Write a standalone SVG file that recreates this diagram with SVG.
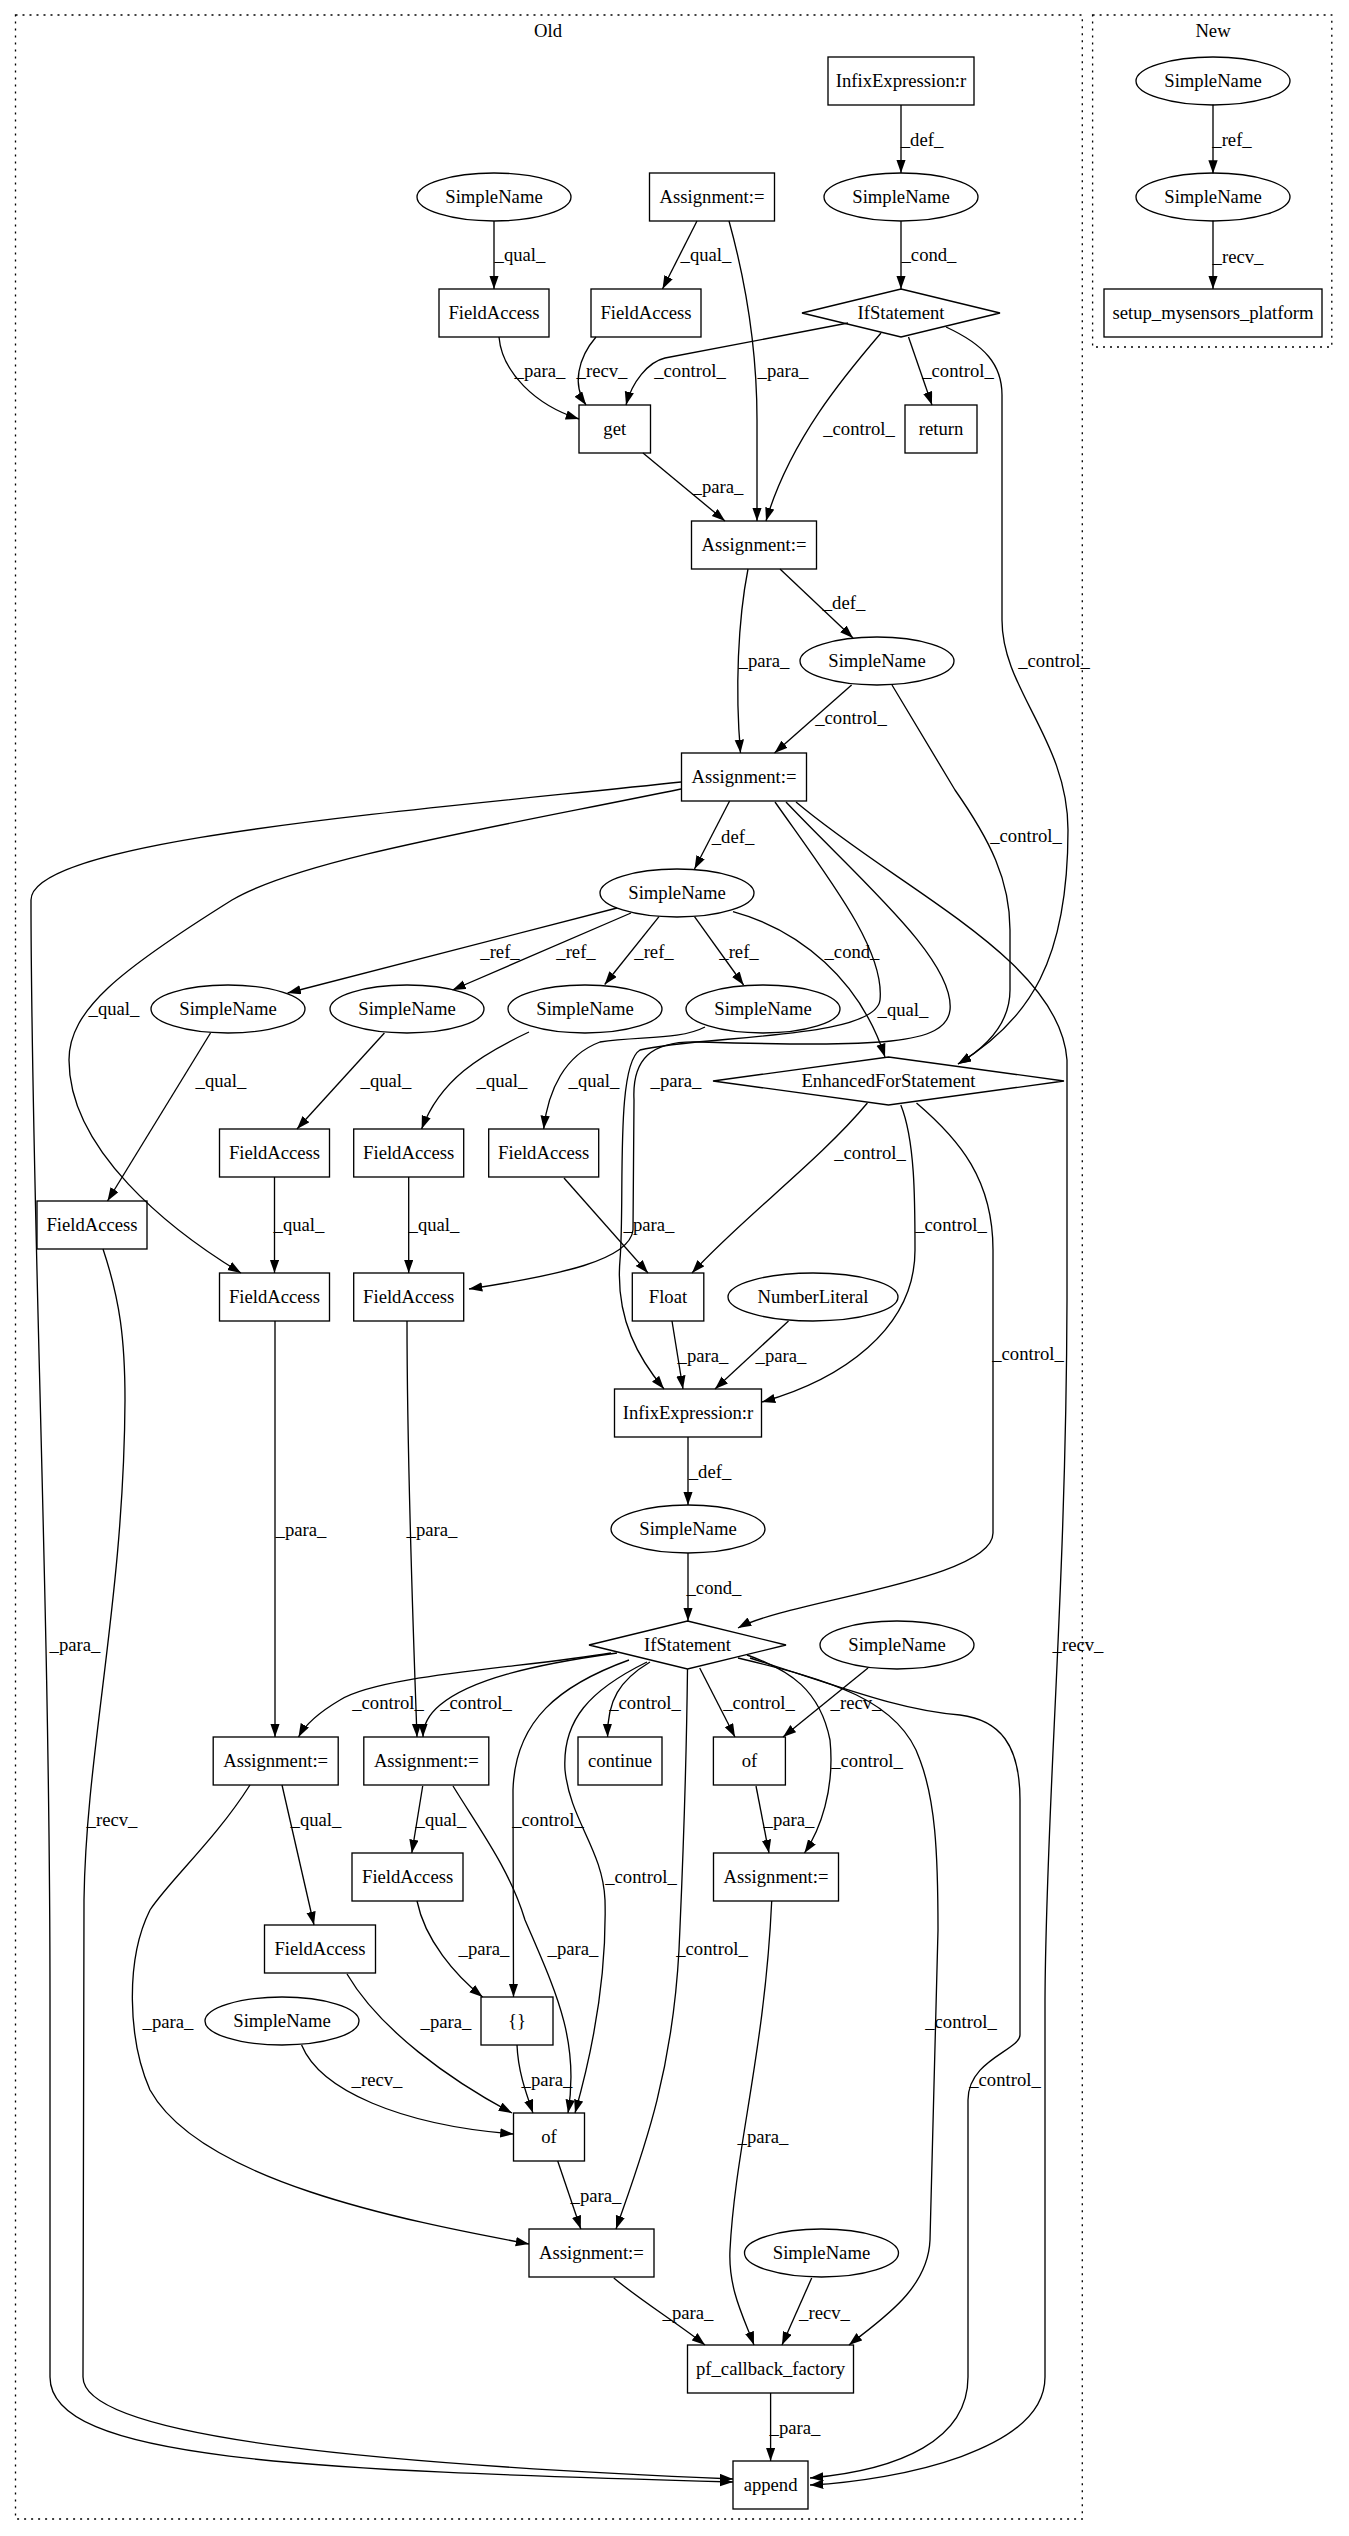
<svg xmlns="http://www.w3.org/2000/svg" width="1349" height="2536" viewBox="0 0 1349 2536">
<defs>
<marker id="a" markerWidth="14" markerHeight="10" refX="13.3" refY="4.67" orient="auto" markerUnits="userSpaceOnUse"><path d="M0,0 L13.3,4.67 L0,9.33 z" fill="#000"/></marker>
<style>
.c{fill:none;stroke:#000;stroke-width:1.33;stroke-dasharray:2,5}
.n{fill:none;stroke:#000;stroke-width:1.33}
.e{fill:none;stroke:#000;stroke-width:1.33;marker-end:url(#a)}
text{font-family:"Liberation Serif","Times New Roman",serif;font-size:18.67px;fill:#000;text-anchor:middle}
</style>
</defs>
<rect width="1349" height="2536" fill="#fff"/>
<g id="clusters">
<rect class="c" x="15.5" y="15" width="1066.8" height="2504"/>
<text x="548" y="37">Old</text>
<rect class="c" x="1092.6" y="15" width="239.2" height="332"/>
<text x="1213" y="37">New</text>
</g>
<g id="edges">
<path class="e" d="M901,105 L901,173"/>
<path class="e" d="M901,221 L901,289"/>
<path class="e" d="M494,221 L494,289"/>
<path class="e" d="M697,221 L662.5,289"/>
<path class="e" d="M729,221 C748,290 757,360 757,420 L757,521"/>
<path class="e" d="M499,337 C502,372 535,405 579,419"/>
<path class="e" d="M596,337 C578,358 572,385 586,405"/>
<path class="e" d="M848,323 L665,358 C648,362 632,382 626,405"/>
<path class="e" d="M908.5,337 L932,405"/>
<path class="e" d="M881,333 C845,375 790,440 766,521"/>
<path class="e" d="M946,327 C985,345 1002,365 1002,395 L1002,620 C1002,690 1068,740 1068,830 C1068,960 1030,1020 958,1064"/>
<path class="e" d="M643,453 L725,521"/>
<path class="e" d="M780,569 L853,638"/>
<path class="e" d="M748,569 C738,620 735,690 740.5,753"/>
<path class="e" d="M851.6,685 L774.5,753"/>
<path class="e" d="M892,685 L955,790 C990,840 1010,880 1010,930 L1010,990 C1010,1020 990,1045 958,1064"/>
<path class="e" d="M729.6,801 L694.5,869"/>
<path class="e" d="M681,782 C400,812 31,840 31,900 C31,1200 50,1600 50,2000 L50,2377 C50,2460 300,2470 733,2482"/>
<path class="e" d="M681,789 C480,830 300,860 232,900 C120,970 69,1010 69,1060 C69,1150 170,1230 241,1273"/>
<path class="e" d="M775,802 C830,880 885,950 880,1000 C875,1040 700,1035 640,1050 C615,1065 625,1200 620,1260 C615,1320 640,1360 664,1389"/>
<path class="e" d="M786,802 C860,880 955,960 950,1010 C946,1045 880,1047 700,1042 C650,1040 632,1060 634,1100 L633,1230 C630,1260 560,1275 469,1289"/>
<path class="e" d="M796,802 C900,890 1060,960 1067,1060 L1067,1300 C1066,1600 1046,1800 1045,2000 L1045,2377 C1045,2450 900,2480 810,2485"/>
<path class="e" d="M733,911.7 C800,930 860,980 885,1057"/>
<path class="e" d="M617,908 L287.6,993"/>
<path class="e" d="M631,913 L452.5,990"/>
<path class="e" d="M659,916.7 L604.7,984.5"/>
<path class="e" d="M694.5,916.7 L743.6,985"/>
<path class="e" d="M210.5,1033 L107.5,1201"/>
<path class="e" d="M384.4,1033 L297,1129"/>
<path class="e" d="M529,1032 C480,1055 440,1080 421.6,1129"/>
<path class="e" d="M705,1027 C680,1040 640,1036 600,1042 C565,1055 548,1090 543.7,1129"/>
<path class="e" d="M274.5,1177 L274.5,1273"/>
<path class="e" d="M408.7,1177 L408.7,1273"/>
<path class="e" d="M564,1178 L648,1273"/>
<path class="e" d="M103,1249 C120,1300 125,1340 125,1400 C124,1600 86,1750 84,1900 L83,2377 C83,2440 400,2465 733,2479"/>
<path class="e" d="M867.4,1103 C820,1160 740,1220 692,1273"/>
<path class="e" d="M900.8,1105 C915,1140 915,1200 915,1250 C915,1330 840,1380 762,1402"/>
<path class="e" d="M916.5,1103 C960,1140 993,1180 993,1250 L993,1533 C993,1580 790,1600 738,1628"/>
<path class="e" d="M672,1321 L683,1389"/>
<path class="e" d="M788.5,1321 L715,1389"/>
<path class="e" d="M688,1437 L688,1505"/>
<path class="e" d="M688,1553 L688,1621"/>
<path class="e" d="M275,1321 L275,1737"/>
<path class="e" d="M407,1321 C407,1450 412,1600 417,1737"/>
<path class="e" d="M611,1653 C520,1668 380,1675 340,1700 C318,1713 305,1725 298.5,1737"/>
<path class="e" d="M617,1653 C530,1665 470,1680 440,1705 C428,1715 423,1725 423,1737"/>
<path class="e" d="M650,1662 C620,1680 607,1700 607.6,1737"/>
<path class="e" d="M699.7,1668 L735,1737"/>
<path class="e" d="M868,1668 L783,1737"/>
<path class="e" d="M747,1655 C790,1670 820,1690 830,1740 C835,1790 820,1830 804.5,1853"/>
<path class="e" d="M629,1660 C560,1685 515,1720 513,1790 L513.5,1997"/>
<path class="e" d="M647,1662 C590,1690 562,1720 565,1770 C570,1820 603,1850 605,1900 C607,1980 590,2060 575,2113"/>
<path class="e" d="M687.5,1669 C686,1800 682,1880 679,1950 C672,2080 640,2160 616,2229"/>
<path class="e" d="M738,1658 C830,1680 900,1700 920,1760 C935,1800 938,1850 938,1930 L930,2240 C928,2290 880,2320 849,2345"/>
<path class="e" d="M750,1658 C850,1690 900,1710 960,1715 C1000,1720 1020,1745 1020,1800 L1020,2035 C1020,2050 968,2060 968,2100 L968,2377 C968,2440 900,2470 810,2478"/>
<path class="e" d="M756,1786 L769,1853"/>
<path class="e" d="M282,1785 L314,1925"/>
<path class="e" d="M422.7,1786 L411.8,1853"/>
<path class="e" d="M250,1785 C215,1840 170,1880 150,1910 C125,1960 128,2040 150,2090 C200,2180 400,2220 529,2244"/>
<path class="e" d="M453,1786 C480,1830 510,1870 525,1920 C555,1990 580,2040 568,2113"/>
<path class="e" d="M417,1901 C425,1940 455,1975 482.6,1997"/>
<path class="e" d="M347,1974 C380,2030 450,2080 512,2113"/>
<path class="e" d="M517,2045 C518,2070 525,2090 533,2113"/>
<path class="e" d="M301.6,2045 C320,2090 400,2125 513.5,2134"/>
<path class="e" d="M557.7,2161 L580.8,2229"/>
<path class="e" d="M771.7,1901 C765,2050 735,2150 730,2250 C728,2290 745,2320 754,2345"/>
<path class="e" d="M613.8,2278 C640,2300 680,2325 705,2345"/>
<path class="e" d="M811.7,2278 L782,2345"/>
<path class="e" d="M770.6,2393 L770.6,2461"/>
<path class="e" d="M1213,104.5 L1213,173.5"/>
<path class="e" d="M1213,220.5 L1213,289"/>
</g>
<g id="edge-labels">
<text x="922" y="146">_def_</text>
<text x="929" y="261">_cond_</text>
<text x="520" y="261">_qual_</text>
<text x="706" y="261">_qual_</text>
<text x="783" y="377">_para_</text>
<text x="540" y="377">_para_</text>
<text x="602" y="377">_recv_</text>
<text x="690" y="377">_control_</text>
<text x="958" y="377">_control_</text>
<text x="859" y="435">_control_</text>
<text x="1054" y="667">_control_</text>
<text x="718" y="493">_para_</text>
<text x="844" y="609">_def_</text>
<text x="764" y="667">_para_</text>
<text x="851" y="724">_control_</text>
<text x="1026" y="842">_control_</text>
<text x="733" y="843">_def_</text>
<text x="75" y="1651">_para_</text>
<text x="114" y="1015">_qual_</text>
<text x="676" y="1087">_para_</text>
<text x="903" y="1016">_qual_</text>
<text x="1078" y="1651">_recv_</text>
<text x="852" y="958">_cond_</text>
<text x="500" y="958">_ref_</text>
<text x="576" y="958">_ref_</text>
<text x="654" y="958">_ref_</text>
<text x="739" y="958">_ref_</text>
<text x="221" y="1087">_qual_</text>
<text x="386" y="1087">_qual_</text>
<text x="502" y="1087">_qual_</text>
<text x="594" y="1087">_qual_</text>
<text x="299" y="1231">_qual_</text>
<text x="434" y="1231">_qual_</text>
<text x="649" y="1231">_para_</text>
<text x="112" y="1826">_recv_</text>
<text x="870" y="1159">_control_</text>
<text x="951" y="1231">_control_</text>
<text x="1028" y="1360">_control_</text>
<text x="703" y="1362">_para_</text>
<text x="781" y="1362">_para_</text>
<text x="710" y="1478">_def_</text>
<text x="714" y="1594">_cond_</text>
<text x="301" y="1536">_para_</text>
<text x="432" y="1536">_para_</text>
<text x="388" y="1709">_control_</text>
<text x="476" y="1709">_control_</text>
<text x="645" y="1709">_control_</text>
<text x="759" y="1709">_control_</text>
<text x="856" y="1709">_recv_</text>
<text x="867" y="1767">_control_</text>
<text x="548" y="1826">_control_</text>
<text x="641" y="1883">_control_</text>
<text x="712" y="1955">_control_</text>
<text x="961" y="2028">_control_</text>
<text x="1005" y="2086">_control_</text>
<text x="789" y="1826">_para_</text>
<text x="316" y="1826">_qual_</text>
<text x="441" y="1826">_qual_</text>
<text x="168" y="2028">_para_</text>
<text x="573" y="1955">_para_</text>
<text x="484" y="1955">_para_</text>
<text x="446" y="2028">_para_</text>
<text x="547" y="2086">_para_</text>
<text x="377" y="2086">_recv_</text>
<text x="596" y="2202">_para_</text>
<text x="763" y="2143">_para_</text>
<text x="688" y="2319">_para_</text>
<text x="824.5" y="2319">_recv_</text>
<text x="795" y="2434">_para_</text>
<text x="1232" y="146">_ref_</text>
<text x="1238" y="263">_recv_</text>
</g>
<g id="n1"><rect class="n" x="828" y="57" width="146" height="48"/><text x="901" y="87">InfixExpression:r</text></g>
<g id="n2"><ellipse class="n" cx="901" cy="197" rx="77" ry="24"/><text x="901" y="203">SimpleName</text></g>
<g id="n3"><polygon class="n" points="901,289 1000,313 901,337 802,313"/><text x="901" y="319">IfStatement</text></g>
<g id="n4"><ellipse class="n" cx="494" cy="197" rx="77" ry="24"/><text x="494" y="203">SimpleName</text></g>
<g id="n5"><rect class="n" x="649.5" y="173" width="125" height="48"/><text x="712" y="203">Assignment:=</text></g>
<g id="n6"><rect class="n" x="439" y="289" width="110" height="48"/><text x="494" y="319">FieldAccess</text></g>
<g id="n7"><rect class="n" x="591" y="289" width="110" height="48"/><text x="646" y="319">FieldAccess</text></g>
<g id="n8"><rect class="n" x="579" y="405" width="71.5" height="48"/><text x="614.7" y="435">get</text></g>
<g id="n9"><rect class="n" x="905" y="405" width="72" height="48"/><text x="941" y="435">return</text></g>
<g id="n10"><rect class="n" x="691.5" y="521" width="125" height="48"/><text x="754" y="551">Assignment:=</text></g>
<g id="n11"><ellipse class="n" cx="877" cy="661" rx="77" ry="24"/><text x="877" y="667">SimpleName</text></g>
<g id="n12"><rect class="n" x="681.5" y="753" width="125" height="48"/><text x="744" y="783">Assignment:=</text></g>
<g id="n13"><ellipse class="n" cx="677" cy="893" rx="77" ry="24"/><text x="677" y="899">SimpleName</text></g>
<g id="n14"><ellipse class="n" cx="228" cy="1009" rx="77" ry="24"/><text x="228" y="1015">SimpleName</text></g>
<g id="n15"><ellipse class="n" cx="407" cy="1009" rx="77" ry="24"/><text x="407" y="1015">SimpleName</text></g>
<g id="n16"><ellipse class="n" cx="585" cy="1009" rx="77" ry="24"/><text x="585" y="1015">SimpleName</text></g>
<g id="n17"><ellipse class="n" cx="763" cy="1009" rx="77" ry="24"/><text x="763" y="1015">SimpleName</text></g>
<g id="n18"><polygon class="n" points="888.5,1057 1064,1081 888.5,1105 713,1081"/><text x="888.5" y="1087">EnhancedForStatement</text></g>
<g id="n19"><rect class="n" x="219.5" y="1129" width="110" height="48"/><text x="274.5" y="1159">FieldAccess</text></g>
<g id="n20"><rect class="n" x="353.7" y="1129" width="110" height="48"/><text x="408.7" y="1159">FieldAccess</text></g>
<g id="n21"><rect class="n" x="488.7" y="1129" width="110" height="48"/><text x="543.7" y="1159">FieldAccess</text></g>
<g id="n22"><rect class="n" x="37" y="1201" width="110" height="48"/><text x="92" y="1231">FieldAccess</text></g>
<g id="n23"><rect class="n" x="219.5" y="1273" width="110" height="48"/><text x="274.5" y="1303">FieldAccess</text></g>
<g id="n24"><rect class="n" x="353.7" y="1273" width="110" height="48"/><text x="408.7" y="1303">FieldAccess</text></g>
<g id="n25"><rect class="n" x="632.3" y="1273" width="71.5" height="48"/><text x="668" y="1303">Float</text></g>
<g id="n26"><ellipse class="n" cx="813" cy="1297" rx="85" ry="24"/><text x="813" y="1303">NumberLiteral</text></g>
<g id="n27"><rect class="n" x="614.5" y="1389" width="147" height="48"/><text x="688" y="1419">InfixExpression:r</text></g>
<g id="n28"><ellipse class="n" cx="688" cy="1529" rx="77" ry="24"/><text x="688" y="1535">SimpleName</text></g>
<g id="n29"><polygon class="n" points="687.5,1621 786,1645 687.5,1669 589,1645"/><text x="687.5" y="1651">IfStatement</text></g>
<g id="n30"><ellipse class="n" cx="897" cy="1645" rx="77" ry="24"/><text x="897" y="1651">SimpleName</text></g>
<g id="n31"><rect class="n" x="213.2" y="1737" width="125" height="48"/><text x="275.7" y="1767">Assignment:=</text></g>
<g id="n32"><rect class="n" x="363.8" y="1737" width="125" height="48"/><text x="426.3" y="1767">Assignment:=</text></g>
<g id="n33"><rect class="n" x="578" y="1737" width="84" height="48"/><text x="620" y="1767">continue</text></g>
<g id="n34"><rect class="n" x="713.4" y="1737" width="72" height="48"/><text x="749.4" y="1767">of</text></g>
<g id="n35"><rect class="n" x="352" y="1853" width="111" height="48"/><text x="407.6" y="1883">FieldAccess</text></g>
<g id="n36"><rect class="n" x="713.5" y="1853" width="125" height="48"/><text x="776" y="1883">Assignment:=</text></g>
<g id="n37"><rect class="n" x="264.5" y="1925" width="111" height="48"/><text x="320" y="1955">FieldAccess</text></g>
<g id="n38"><rect class="n" x="481" y="1997" width="72" height="48"/><text x="517" y="2027">{}</text></g>
<g id="n39"><ellipse class="n" cx="282" cy="2021" rx="77" ry="24"/><text x="282" y="2027">SimpleName</text></g>
<g id="n40"><rect class="n" x="513.5" y="2113" width="71" height="48"/><text x="549" y="2143">of</text></g>
<g id="n41"><rect class="n" x="529" y="2229" width="125" height="48"/><text x="591.4" y="2259">Assignment:=</text></g>
<g id="n42"><ellipse class="n" cx="821.5" cy="2253" rx="77" ry="24"/><text x="821.5" y="2259">SimpleName</text></g>
<g id="n43"><rect class="n" x="687.5" y="2345" width="166" height="48"/><text x="770.6" y="2375">pf_callback_factory</text></g>
<g id="n44"><rect class="n" x="733" y="2461" width="75" height="48"/><text x="770.6" y="2491">append</text></g>
<g id="n45"><ellipse class="n" cx="1213" cy="81" rx="77" ry="24"/><text x="1213" y="87">SimpleName</text></g>
<g id="n46"><ellipse class="n" cx="1213" cy="197" rx="77" ry="24"/><text x="1213" y="203">SimpleName</text></g>
<g id="n47"><rect class="n" x="1104" y="289" width="218" height="48"/><text x="1213" y="319">setup_mysensors_platform</text></g>
</svg>
